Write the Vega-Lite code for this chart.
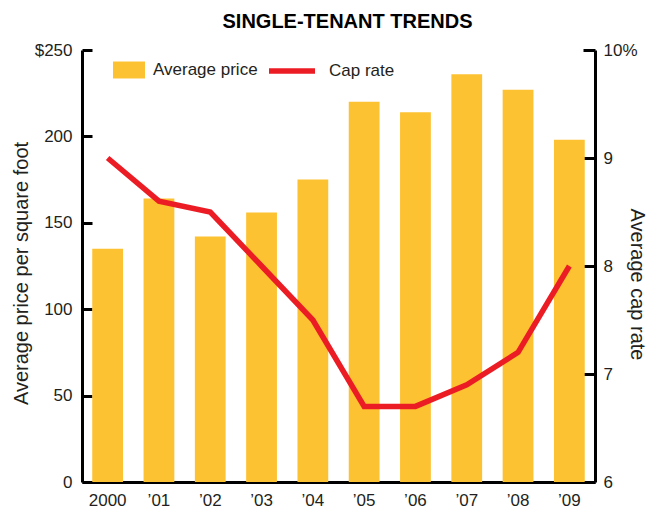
{
  "$schema": "https://vega.github.io/schema/vega-lite/v6.json",
  "autosize": "none",
  "width": 513,
  "height": 432,
  "padding": {"left": 82, "top": 50, "right": 57, "bottom": 33},
  "background": "white",
  "title": {
    "text": "SINGLE-TENANT TRENDS",
    "font": "Liberation Sans",
    "fontSize": 20,
    "fontWeight": "bold",
    "color": "#000000",
    "anchor": "middle",
    "baseline": "alphabetic",
    "dx": 9,
    "offset": -7
  },
  "config": {
    "view": {"stroke": null},
    "font": "Liberation Sans",
    "axis": {"labelFont": "Liberation Sans", "titleFont": "Liberation Sans", "labelColor": "#231F20", "titleColor": "#231F20", "grid": false},
    "legend": {"labelFont": "Liberation Sans", "labelColor": "#231F20"}
  },
  "data": {
    "values": [
      {"year": "2000", "price": 135, "cap": 9.0},
      {"year": "’01", "price": 164, "cap": 8.6},
      {"year": "’02", "price": 142, "cap": 8.5},
      {"year": "’03", "price": 156, "cap": 8.0},
      {"year": "’04", "price": 175, "cap": 7.5},
      {"year": "’05", "price": 220, "cap": 6.7},
      {"year": "’06", "price": 214, "cap": 6.7},
      {"year": "’07", "price": 236, "cap": 6.9},
      {"year": "’08", "price": 227, "cap": 7.2},
      {"year": "’09", "price": 198, "cap": 8.0}
    ]
  },
  "encoding": {
    "x": {
      "field": "year",
      "type": "ordinal",
      "sort": null,
      "scale": {"paddingInner": 0.4, "paddingOuter": 0.2},
      "axis": {
        "title": null,
        "labelAngle": 0,
        "labelFontSize": 17,
        "labelPadding": 10,
        "ticks": false,
        "domainColor": "#000000",
        "domainWidth": 3
      }
    }
  },
  "layer": [
    {
      "mark": {"type": "bar"},
      "encoding": {
        "y": {
          "field": "price",
          "type": "quantitative",
          "scale": {"domain": [0, 250], "nice": false},
          "axis": {
            "orient": "left",
            "values": [0, 50, 100, 150, 200, 250],
            "labelExpr": "datum.value == 250 ? '$250' : datum.label",
            "labelFontSize": 17,
            "tickSize": -10,
            "tickWidth": 3,
            "tickColor": "#000000",
            "labelPadding": 20,
            "domainColor": "#000000",
            "domainWidth": 3,
            "title": "Average price per square foot",
            "titleFontSize": 20,
            "titleFontWeight": "normal",
            "titleAngle": -90,
            "titleX": -61,
            "titleY": 223,
            "titleAlign": "center",
            "titleBaseline": "middle"
          }
        },
        "fill": {
          "datum": "Average price",
          "scale": {"range": ["#FDC231"]},
          "legend": {
            "title": null,
            "orient": "none",
            "legendX": 31,
            "legendY": 4,
            "symbolType": "M-1,-0.53H1V0.53H-1Z",
            "symbolSize": 1024,
            "symbolStrokeWidth": 0,
            "labelFontSize": 17,
            "labelOffset": 8
          }
        }
      }
    },
    {
      "mark": {"type": "line", "strokeWidth": 5.5, "strokeJoin": "miter"},
      "encoding": {
        "y": {
          "field": "cap",
          "type": "quantitative",
          "scale": {"domain": [6, 10], "nice": false},
          "axis": {
            "orient": "right",
            "values": [6, 7, 8, 9, 10],
            "labelExpr": "datum.value == 10 ? '10%' : datum.label",
            "labelFontSize": 17,
            "tickSize": -12,
            "tickWidth": 3,
            "tickColor": "#000000",
            "labelPadding": 20,
            "domainColor": "#000000",
            "domainWidth": 3,
            "title": "Average cap rate",
            "titleFontSize": 20,
            "titleFontWeight": "normal",
            "titleAngle": 90,
            "titleX": 41,
            "titleY": 234,
            "titleAlign": "center",
            "titleBaseline": "middle"
          }
        },
        "stroke": {
          "datum": "Cap rate",
          "scale": {"range": ["#EC1C24"]},
          "legend": {
            "title": null,
            "orient": "none",
            "legendX": 184,
            "legendY": -5,
            "symbolType": "stroke",
            "symbolSize": 2116,
            "symbolStrokeWidth": 5.5,
            "labelFontSize": 17,
            "labelOffset": 11
          }
        }
      }
    }
  ],
  "resolve": {"scale": {"y": "independent"}}
}
